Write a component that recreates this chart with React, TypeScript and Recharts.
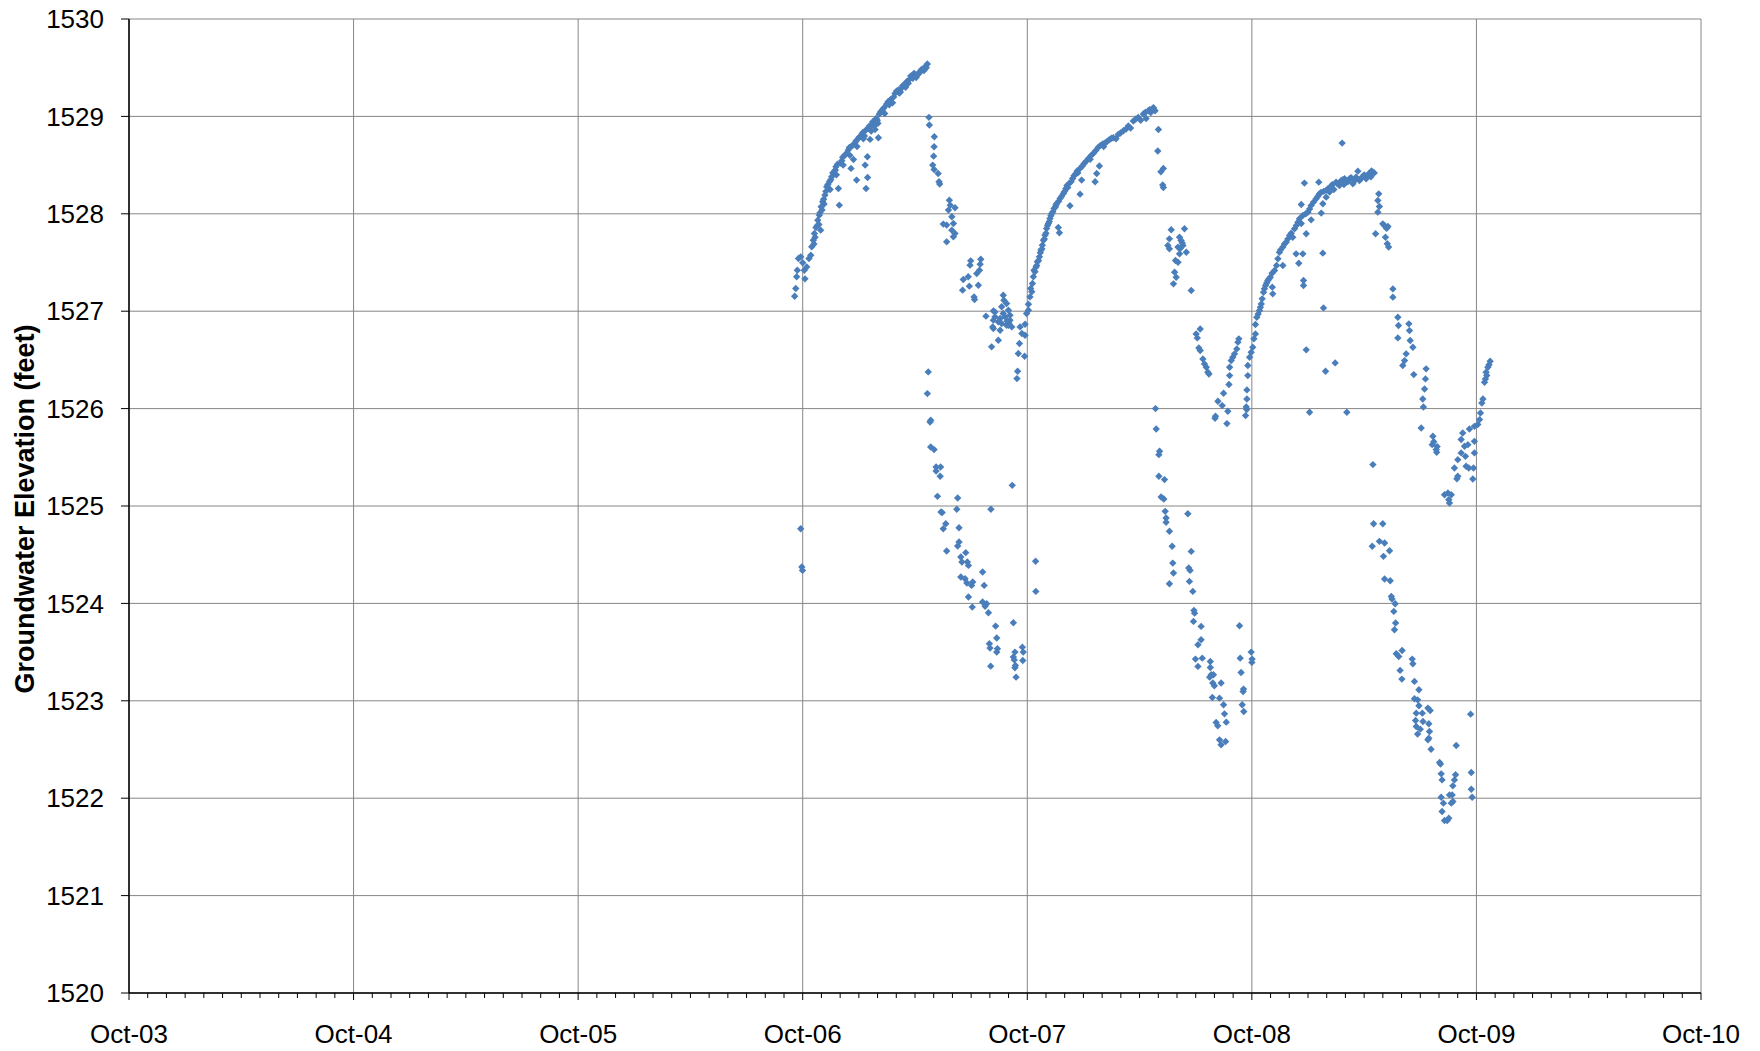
import React from 'react';
import { ScatterChart, Scatter, XAxis, YAxis, CartesianGrid } from 'recharts';

// [decimal year, elevation (feet)]
type P = [number, number];

const xTickValues = [2003.75, 2004.75, 2005.75, 2006.75, 2007.75, 2008.75, 2009.75, 2010.75];
const xTickLabels = ['Oct-03', 'Oct-04', 'Oct-05', 'Oct-06', 'Oct-07', 'Oct-08', 'Oct-09', 'Oct-10'];
const yTickValues = [1520, 1521, 1522, 1523, 1524, 1525, 1526, 1527, 1528, 1529, 1530];

const cycle1Rise: P[] = [
  [2006.714, 1527.154], [2006.719, 1527.233], [2006.723, 1527.353], [2006.726, 1527.421], [2006.731, 1527.541],
  [2006.741, 1527.558], [2006.750, 1527.497], [2006.757, 1527.421], [2006.760, 1527.332], [2006.768, 1527.455],
  [2006.778, 1527.541], [2006.786, 1527.575], [2006.790, 1527.661], [2006.797, 1527.729], [2006.802, 1527.798],
  [2006.809, 1527.860], [2006.817, 1527.935], [2006.824, 1527.986], [2006.830, 1527.832], [2006.832, 1528.072],
  [2006.839, 1528.123], [2006.849, 1528.192], [2006.857, 1528.277], [2006.869, 1528.329], [2006.879, 1528.380],
  [2006.890, 1528.432], [2006.898, 1528.483], [2006.909, 1528.260], [2006.913, 1528.089], [2006.924, 1528.545],
  [2006.938, 1528.603], [2006.953, 1528.654], [2006.965, 1528.466], [2006.968, 1528.695], [2006.976, 1528.558],
  [2006.983, 1528.729], [2006.990, 1528.346], [2006.998, 1528.774], [2007.013, 1528.818], [2007.028, 1528.500],
  [2007.032, 1528.860], [2007.038, 1528.586], [2007.032, 1528.260], [2007.039, 1528.373], [2007.047, 1528.901],
  [2007.050, 1528.764], [2007.062, 1528.945], [2007.072, 1528.866], [2007.077, 1528.979], [2007.087, 1528.781],
  [2007.091, 1529.024], [2007.106, 1529.072], [2007.124, 1529.127], [2007.142, 1529.175], [2007.161, 1529.236],
  [2007.176, 1529.271], [2007.195, 1529.315], [2007.213, 1529.356], [2007.231, 1529.414], [2007.246, 1529.442],
  [2007.261, 1529.432], [2007.272, 1529.459], [2007.284, 1529.483], [2007.295, 1529.510], [2007.305, 1529.538],
  [2006.800, 1527.690], [2006.822, 1527.890], [2006.845, 1528.100], [2006.872, 1528.250], [2006.900, 1528.400],
  [2006.930, 1528.500], [2006.960, 1528.600], [2006.992, 1528.690], [2007.020, 1528.770], [2007.055, 1528.850],
  [2007.085, 1528.930], [2007.115, 1529.030], [2007.150, 1529.140], [2007.185, 1529.250], [2007.220, 1529.340],
  [2007.255, 1529.400], [2007.290, 1529.470],
  [2006.805, 1527.760], [2006.815, 1527.880], [2006.827, 1528.010], [2006.836, 1528.040], [2006.843, 1528.150],
  [2006.853, 1528.230], [2006.862, 1528.300], [2006.875, 1528.350], [2006.884, 1528.420], [2006.895, 1528.450],
  [2006.905, 1528.510], [2006.918, 1528.520], [2006.928, 1528.580], [2006.945, 1528.620], [2006.958, 1528.680],
  [2006.972, 1528.700], [2006.988, 1528.750], [2007.003, 1528.790], [2007.018, 1528.835], [2007.025, 1528.800],
  [2007.042, 1528.880], [2007.058, 1528.920], [2007.068, 1528.900], [2007.082, 1528.960], [2007.098, 1529.050],
  [2007.112, 1529.090], [2007.130, 1529.150], [2007.135, 1529.120], [2007.155, 1529.200], [2007.168, 1529.260],
  [2007.180, 1529.240], [2007.190, 1529.290], [2007.205, 1529.330], [2007.208, 1529.300], [2007.225, 1529.380],
  [2007.238, 1529.420], [2007.240, 1529.390], [2007.268, 1529.440], [2007.278, 1529.480], [2007.300, 1529.500],
];

const cycle1Fall: P[] = [
  [2007.312, 1528.990], [2007.314, 1528.911], [2007.336, 1528.791], [2007.335, 1528.688], [2007.333, 1528.592],
  [2007.329, 1528.500], [2007.335, 1528.455], [2007.353, 1528.414], [2007.357, 1528.329], [2007.360, 1528.305],
  [2007.403, 1528.140], [2007.407, 1528.089], [2007.428, 1528.062], [2007.399, 1528.038], [2007.414, 1527.969],
  [2007.376, 1527.894], [2007.391, 1527.884], [2007.421, 1527.901], [2007.414, 1527.832], [2007.428, 1527.798],
  [2007.421, 1527.764], [2007.391, 1527.712], [2007.498, 1527.517], [2007.495, 1527.473], [2007.543, 1527.534],
  [2007.540, 1527.483], [2007.537, 1527.421], [2007.525, 1527.387], [2007.465, 1527.325], [2007.487, 1527.353],
  [2007.462, 1527.216], [2007.492, 1527.257], [2007.532, 1527.267], [2007.513, 1527.147], [2007.515, 1527.120],
  [2007.566, 1526.949], [2007.599, 1527.003], [2007.606, 1526.942], [2007.621, 1526.890], [2007.596, 1526.839],
  [2007.643, 1527.164], [2007.646, 1527.113], [2007.636, 1527.045], [2007.658, 1527.079], [2007.666, 1527.010],
  [2007.651, 1526.942], [2007.673, 1526.908], [2007.658, 1526.856], [2007.681, 1526.839], [2007.629, 1526.805],
  [2007.606, 1526.993], [2007.599, 1526.908], [2007.629, 1526.925], [2007.643, 1526.976], [2007.673, 1526.959],
  [2007.636, 1526.873], [2007.666, 1526.856], [2007.599, 1526.822], [2007.621, 1526.702], [2007.591, 1526.634],
  [2007.718, 1526.839], [2007.726, 1526.771], [2007.740, 1526.753], [2007.715, 1526.668], [2007.710, 1526.565],
  [2007.738, 1526.538], [2007.707, 1526.384], [2007.704, 1526.308], [2007.755, 1527.072], [2007.747, 1526.976],
  [2007.755, 1527.010], [2007.740, 1526.866], [2007.660, 1526.900], [2007.668, 1526.880],
];

const cycle1Drop: P[] = [
  [2006.741, 1524.767], [2006.746, 1524.373], [2006.749, 1524.339],
  [2007.309, 1526.377], [2007.305, 1526.154], [2007.317, 1525.863], [2007.320, 1525.880], [2007.320, 1525.606],
  [2007.335, 1525.579], [2007.344, 1525.401], [2007.364, 1525.401], [2007.344, 1525.360], [2007.362, 1525.305],
  [2007.350, 1525.099], [2007.366, 1524.938], [2007.371, 1524.932], [2007.387, 1524.818], [2007.376, 1524.767],
  [2007.391, 1524.538], [2007.440, 1525.082], [2007.436, 1524.966], [2007.446, 1524.777], [2007.446, 1524.630],
  [2007.440, 1524.589], [2007.476, 1524.521], [2007.454, 1524.476], [2007.459, 1524.425], [2007.483, 1524.425],
  [2007.488, 1524.390], [2007.454, 1524.271], [2007.473, 1524.253], [2007.481, 1524.209], [2007.507, 1524.219],
  [2007.502, 1524.185], [2007.551, 1524.322], [2007.558, 1524.185], [2007.488, 1524.065], [2007.505, 1523.962],
  [2007.551, 1524.014], [2007.569, 1523.997], [2007.562, 1523.970], [2007.577, 1523.904], [2007.588, 1524.966],
  [2007.683, 1525.212], [2007.609, 1523.767], [2007.614, 1523.644], [2007.581, 1523.586], [2007.584, 1523.541],
  [2007.617, 1523.534], [2007.614, 1523.500], [2007.587, 1523.356], [2007.688, 1523.801], [2007.728, 1523.551],
  [2007.732, 1523.500], [2007.695, 1523.500], [2007.688, 1523.449], [2007.692, 1523.420], [2007.730, 1523.414],
  [2007.697, 1523.363], [2007.695, 1523.340], [2007.700, 1523.243], [2007.787, 1524.432], [2007.788, 1524.123],
];

const cycle2Rise: P[] = [
  [2007.762, 1527.147], [2007.765, 1527.233], [2007.773, 1527.284], [2007.777, 1527.353], [2007.784, 1527.404],
  [2007.789, 1527.455], [2007.795, 1527.507], [2007.804, 1527.558], [2007.811, 1527.627], [2007.817, 1527.678],
  [2007.822, 1527.729], [2007.829, 1527.781], [2007.836, 1527.849], [2007.844, 1527.901], [2007.851, 1527.952],
  [2007.859, 1528.003], [2007.869, 1528.055], [2007.881, 1528.106], [2007.896, 1528.158], [2007.911, 1528.209],
  [2007.922, 1528.260], [2007.937, 1528.312], [2007.952, 1528.363], [2007.967, 1528.414], [2007.985, 1528.466],
  [2008.003, 1528.517], [2008.022, 1528.568], [2008.044, 1528.620], [2008.066, 1528.682], [2008.086, 1528.716],
  [2008.104, 1528.740], [2008.133, 1528.781], [2008.155, 1528.815], [2008.178, 1528.853], [2008.200, 1528.901],
  [2008.222, 1528.952], [2008.244, 1528.990], [2008.267, 1529.024], [2008.289, 1529.058], [2008.308, 1529.082],
  [2008.319, 1529.058], [2007.888, 1527.860], [2007.893, 1527.805], [2007.940, 1528.082], [2007.985, 1528.202],
  [2007.992, 1528.346], [2008.052, 1528.329], [2008.059, 1528.414], [2008.071, 1528.490], [2008.279, 1528.979],
  [2007.770, 1527.200], [2007.800, 1527.520], [2007.826, 1527.740], [2007.875, 1528.070], [2007.930, 1528.270],
  [2007.975, 1528.420], [2008.030, 1528.560], [2008.090, 1528.690], [2008.145, 1528.770], [2008.210, 1528.880],
  [2008.255, 1528.960], [2008.300, 1529.040],
  [2007.780, 1527.420], [2007.792, 1527.470], [2007.808, 1527.600], [2007.815, 1527.640], [2007.833, 1527.800],
  [2007.840, 1527.880], [2007.848, 1527.920], [2007.855, 1527.980], [2007.864, 1528.020], [2007.878, 1528.090],
  [2007.890, 1528.130], [2007.903, 1528.180], [2007.916, 1528.230], [2007.927, 1528.290], [2007.945, 1528.330],
  [2007.958, 1528.390], [2007.972, 1528.440], [2007.995, 1528.490], [2008.012, 1528.540], [2008.035, 1528.600],
  [2008.055, 1528.650], [2008.075, 1528.700], [2008.095, 1528.725], [2008.115, 1528.760], [2008.125, 1528.775],
  [2008.165, 1528.830], [2008.190, 1528.870], [2008.232, 1528.970], [2008.275, 1529.040], [2008.295, 1529.070],
  [2008.312, 1529.090],
];

const cycle2Fall: P[] = [
  [2008.334, 1528.866], [2008.331, 1528.644], [2008.356, 1528.466], [2008.345, 1528.432], [2008.353, 1528.295],
  [2008.356, 1528.270],
  [2008.391, 1527.836], [2008.450, 1527.846], [2008.383, 1527.743], [2008.428, 1527.760], [2008.435, 1527.726],
  [2008.376, 1527.675], [2008.383, 1527.640], [2008.421, 1527.658], [2008.443, 1527.675], [2008.458, 1527.606],
  [2008.428, 1527.589], [2008.410, 1527.521], [2008.421, 1527.503], [2008.406, 1527.401], [2008.413, 1527.349],
  [2008.401, 1527.281], [2008.480, 1527.212], [2008.440, 1527.700], [2008.430, 1527.640],
  [2008.520, 1526.818], [2008.502, 1526.767], [2008.507, 1526.726], [2008.514, 1526.623], [2008.520, 1526.596],
  [2008.532, 1526.510], [2008.539, 1526.459], [2008.547, 1526.425], [2008.554, 1526.373], [2008.559, 1526.356],
  [2008.692, 1526.716], [2008.688, 1526.682], [2008.683, 1526.613], [2008.673, 1526.562], [2008.665, 1526.527],
  [2008.658, 1526.493], [2008.651, 1526.425], [2008.651, 1526.339], [2008.648, 1526.247], [2008.624, 1526.158],
  [2008.599, 1526.075], [2008.618, 1526.031], [2008.588, 1525.921], [2008.586, 1525.900], [2008.643, 1525.973],
  [2008.639, 1525.846], [2008.722, 1525.928], [2008.725, 1526.017], [2008.727, 1525.990],
];

const cycle2Drop: P[] = [
  [2008.321, 1526.000], [2008.324, 1525.791], [2008.339, 1525.562], [2008.336, 1525.527], [2008.336, 1525.305],
  [2008.361, 1525.271], [2008.346, 1525.092], [2008.358, 1525.072], [2008.364, 1524.945], [2008.368, 1524.877],
  [2008.368, 1524.832], [2008.383, 1524.740], [2008.395, 1524.586], [2008.398, 1524.414], [2008.401, 1524.312],
  [2008.383, 1524.202], [2008.465, 1524.921], [2008.480, 1524.534], [2008.469, 1524.363], [2008.475, 1524.339],
  [2008.472, 1524.226], [2008.487, 1524.123], [2008.492, 1523.928], [2008.495, 1523.900], [2008.490, 1523.815],
  [2008.524, 1523.764], [2008.524, 1523.627], [2008.510, 1523.575], [2008.499, 1523.428], [2008.529, 1523.438],
  [2008.510, 1523.353], [2008.565, 1523.404], [2008.565, 1523.342], [2008.569, 1523.267], [2008.562, 1523.243],
  [2008.579, 1523.267], [2008.576, 1523.182], [2008.583, 1523.154], [2008.613, 1523.182], [2008.574, 1523.034],
  [2008.606, 1523.027], [2008.624, 1522.959], [2008.628, 1522.866], [2008.636, 1522.781], [2008.591, 1522.777],
  [2008.598, 1522.743], [2008.606, 1522.599], [2008.633, 1522.582], [2008.613, 1522.548], [2008.695, 1523.771],
  [2008.698, 1523.438], [2008.702, 1523.291], [2008.713, 1523.120], [2008.711, 1523.096], [2008.707, 1522.959],
  [2008.714, 1522.890], [2008.747, 1523.500], [2008.751, 1523.428], [2008.750, 1523.394],
];

const cycle3Rise: P[] = [
  [2008.732, 1526.442], [2008.732, 1526.339], [2008.728, 1526.192], [2008.728, 1526.099], [2008.740, 1526.527],
  [2008.747, 1526.579], [2008.754, 1526.630], [2008.759, 1526.716], [2008.766, 1526.767], [2008.766, 1526.863],
  [2008.772, 1526.938], [2008.784, 1527.007], [2008.792, 1527.075], [2008.796, 1527.127], [2008.802, 1527.195],
  [2008.811, 1527.264], [2008.821, 1527.315], [2008.832, 1527.349], [2008.851, 1527.418], [2008.866, 1527.538],
  [2008.873, 1527.606], [2008.888, 1527.658], [2008.903, 1527.709], [2008.918, 1527.777], [2008.940, 1527.846],
  [2008.955, 1527.914], [2008.977, 1527.983], [2009.000, 1528.017], [2009.014, 1528.086], [2009.036, 1528.154],
  [2009.051, 1528.205], [2009.081, 1528.240], [2009.103, 1528.281], [2009.125, 1528.325], [2009.155, 1528.349],
  [2009.185, 1528.360], [2009.214, 1528.377], [2009.244, 1528.384], [2009.274, 1528.418], [2009.289, 1528.428],
  [2009.140, 1528.291], [2009.200, 1528.308], [2009.170, 1528.325], [2009.229, 1528.342], [2009.259, 1528.360],
  [2009.222, 1528.438], [2009.096, 1528.223], [2009.066, 1528.103], [2009.081, 1528.171], [2009.115, 1528.250],
  [2009.160, 1528.300], [2009.250, 1528.400], [2009.280, 1528.380], [2008.860, 1527.470], [2008.895, 1527.690],
  [2008.843, 1527.178], [2008.841, 1527.247], [2008.888, 1527.469], [2008.959, 1527.493], [2008.977, 1527.589],
  [2008.980, 1527.315], [2008.980, 1527.264], [2009.066, 1527.596], [2009.069, 1527.034], [2008.992, 1526.603],
  [2009.078, 1526.384], [2009.121, 1526.469], [2009.152, 1528.726], [2008.984, 1528.315], [2009.048, 1528.325],
  [2008.970, 1528.096], [2009.014, 1527.938], [2009.059, 1528.007], [2008.992, 1527.795], [2008.947, 1527.589],
  [2009.007, 1525.962], [2009.173, 1525.962],
  [2008.778, 1526.970], [2008.788, 1527.040], [2008.806, 1527.230], [2008.816, 1527.290], [2008.826, 1527.330],
  [2008.840, 1527.390], [2008.878, 1527.630], [2008.910, 1527.740], [2008.925, 1527.800], [2008.932, 1527.760],
  [2008.948, 1527.880], [2008.962, 1527.950], [2008.970, 1527.900], [2008.990, 1528.000], [2009.007, 1528.050],
  [2009.025, 1528.120], [2009.044, 1528.180], [2009.058, 1528.220], [2009.070, 1528.230], [2009.090, 1528.260],
  [2009.108, 1528.300], [2009.130, 1528.310], [2009.147, 1528.340], [2009.163, 1528.360], [2009.178, 1528.330],
  [2009.192, 1528.370], [2009.207, 1528.340], [2009.236, 1528.360], [2009.266, 1528.400], [2009.283, 1528.440],
  [2009.295, 1528.420],
];

const cycle3Fall: P[] = [
  [2009.315, 1528.205], [2009.311, 1528.137], [2009.318, 1528.075], [2009.311, 1528.017], [2009.333, 1527.897],
  [2009.356, 1527.870], [2009.301, 1527.795], [2009.345, 1527.760], [2009.353, 1527.692], [2009.359, 1527.658],
  [2009.340, 1527.880], [2009.350, 1527.850],
  [2009.378, 1527.229], [2009.378, 1527.144], [2009.400, 1526.938], [2009.403, 1526.853], [2009.400, 1526.726],
  [2009.449, 1526.870], [2009.452, 1526.801], [2009.455, 1526.699], [2009.467, 1526.630], [2009.437, 1526.562],
  [2009.430, 1526.493], [2009.422, 1526.442], [2009.471, 1526.349], [2009.526, 1526.408], [2009.523, 1526.305],
  [2009.519, 1526.202], [2009.511, 1526.099], [2009.504, 1525.801], [2009.514, 1526.017], [2009.556, 1525.716],
  [2009.560, 1525.660], [2009.553, 1525.630], [2009.571, 1525.579], [2009.573, 1525.551], [2009.575, 1525.610],
];

const cycle3Recovery: P[] = [
  [2009.811, 1526.486], [2009.801, 1526.425], [2009.793, 1526.373], [2009.790, 1526.305], [2009.786, 1526.271],
  [2009.779, 1526.099], [2009.774, 1526.058], [2009.768, 1525.955], [2009.764, 1525.887], [2009.756, 1525.836],
  [2009.741, 1525.818], [2009.719, 1525.791], [2009.689, 1525.750], [2009.682, 1525.682], [2009.697, 1525.613],
  [2009.741, 1525.664], [2009.741, 1525.545], [2009.712, 1525.630], [2009.701, 1525.510], [2009.682, 1525.545],
  [2009.667, 1525.476], [2009.652, 1525.390], [2009.704, 1525.408], [2009.716, 1525.390], [2009.737, 1525.390],
  [2009.734, 1525.277], [2009.667, 1525.305], [2009.663, 1525.280], [2009.608, 1525.116], [2009.623, 1525.134],
  [2009.638, 1525.116], [2009.630, 1525.031], [2009.627, 1525.065], [2009.796, 1526.340], [2009.806, 1526.450],
];

const cycle3Drop: P[] = [
  [2009.289, 1525.425], [2009.292, 1524.818], [2009.333, 1524.818], [2009.286, 1524.586], [2009.318, 1524.637],
  [2009.341, 1524.620], [2009.363, 1524.541], [2009.336, 1524.483], [2009.341, 1524.250], [2009.366, 1524.233],
  [2009.371, 1524.072], [2009.374, 1524.045], [2009.388, 1523.997], [2009.382, 1523.918], [2009.390, 1523.798],
  [2009.385, 1523.729], [2009.393, 1523.483], [2009.404, 1523.455], [2009.419, 1523.517], [2009.410, 1523.312],
  [2009.418, 1523.223], [2009.464, 1523.428], [2009.467, 1523.380], [2009.474, 1523.199], [2009.494, 1523.113],
  [2009.474, 1523.021], [2009.488, 1523.010], [2009.494, 1522.949], [2009.482, 1522.873], [2009.509, 1522.873],
  [2009.534, 1522.925], [2009.544, 1522.901], [2009.479, 1522.798], [2009.512, 1522.788], [2009.538, 1522.764],
  [2009.482, 1522.736], [2009.500, 1522.709], [2009.488, 1522.658], [2009.541, 1522.685], [2009.538, 1522.616],
  [2009.534, 1522.600], [2009.548, 1522.503], [2009.586, 1522.366], [2009.590, 1522.350], [2009.593, 1522.250],
  [2009.597, 1522.188], [2009.593, 1522.010], [2009.597, 1521.863], [2009.603, 1521.949], [2009.608, 1521.771],
  [2009.620, 1521.771], [2009.627, 1521.795], [2009.630, 1522.034], [2009.642, 1522.034], [2009.645, 1522.127],
  [2009.652, 1522.188], [2009.657, 1522.240], [2009.638, 1521.949], [2009.645, 1521.966], [2009.660, 1522.541],
  [2009.724, 1522.863], [2009.727, 1522.264], [2009.727, 1522.092], [2009.731, 1522.010],
];

const allSeries: P[][] = [
  cycle1Rise, cycle1Fall, cycle1Drop, cycle2Rise, cycle2Fall, cycle2Drop,
  cycle3Rise, cycle3Fall, cycle3Recovery, cycle3Drop,
];

const MARKER = '#4a7ebb';
const FONT = '"Liberation Sans", Arial, Helvetica, sans-serif';

// monthly tick positions for minor ticks (layout only)
const monthTicks: number[] = [];
for (let k = 0; k <= 84; k++) monthTicks.push(2003.75 + k / 12);

const Diamond = (props: any) => {
  const { cx, cy } = props;
  if (cx == null || cy == null) return <g />;
  const r = 3.7;
  return <path d={`M${cx},${cy - r}L${cx + r},${cy}L${cx},${cy + r}L${cx - r},${cy}Z`} fill={MARKER} />;
};

const XTick = (props: any) => {
  const { x, y, index } = props;
  const major = index % 12 === 0;
  const label = major ? xTickLabels[index / 12] : null;
  return (
    <g>
      <line x1={x} y1={y} x2={x} y2={y + (major ? 7 : 5)} stroke="#000" strokeWidth={1} />
      {label && (
        <text x={x} y={y + 50} textAnchor="middle" fontSize={26} fontFamily={FONT} fill="#000">
          {label}
        </text>
      )}
    </g>
  );
};

export default function App() {
  return (
    <div style={{ position: 'absolute', left: 0, top: 0, width: 1760, height: 1051, background: '#fff' }}>
      <ScatterChart width={1760} height={1051} margin={{ top: 19, right: 59, bottom: 0, left: 49 }}>
        <CartesianGrid
          stroke="#868686"
          strokeWidth={1}
          verticalValues={xTickValues}
          horizontalValues={yTickValues}
        />
        <XAxis
          type="number"
          dataKey="x"
          domain={[2003.75, 2010.75]}
          ticks={monthTicks}
          interval={0}
          allowDataOverflow
          height={58}
          tickLine={false}
          tickSize={0}
          tickMargin={0}
          tick={<XTick />}
          axisLine={{ stroke: '#000', strokeWidth: 1.5 }}
        />
        <YAxis
          type="number"
          dataKey="y"
          domain={[1520, 1530]}
          ticks={yTickValues}
          interval={0}
          allowDataOverflow
          width={80}
          tickSize={8}
          tickMargin={17}
          tickLine={{ stroke: '#000' }}
          axisLine={{ stroke: '#000', strokeWidth: 1.5 }}
          tick={{ fontSize: 26, fontFamily: FONT, fill: '#000' }}
          label={{
            content: () => (
              <text
                x={25}
                y={509}
                transform="rotate(-90 25 509)"
                textAnchor="middle"
                dominantBaseline="central"
                fontSize={27}
                fontWeight="bold"
                fontFamily={FONT}
                fill="#000"
              >
                Groundwater Elevation (feet)
              </text>
            ),
          }}
        />
        {allSeries.map((s, i) => (
          <Scatter
            key={i}
            data={s.map(([x, y]) => ({ x, y }))}
            shape={<Diamond />}
            isAnimationActive={false}
          />
        ))}
      </ScatterChart>
    </div>
  );
}
